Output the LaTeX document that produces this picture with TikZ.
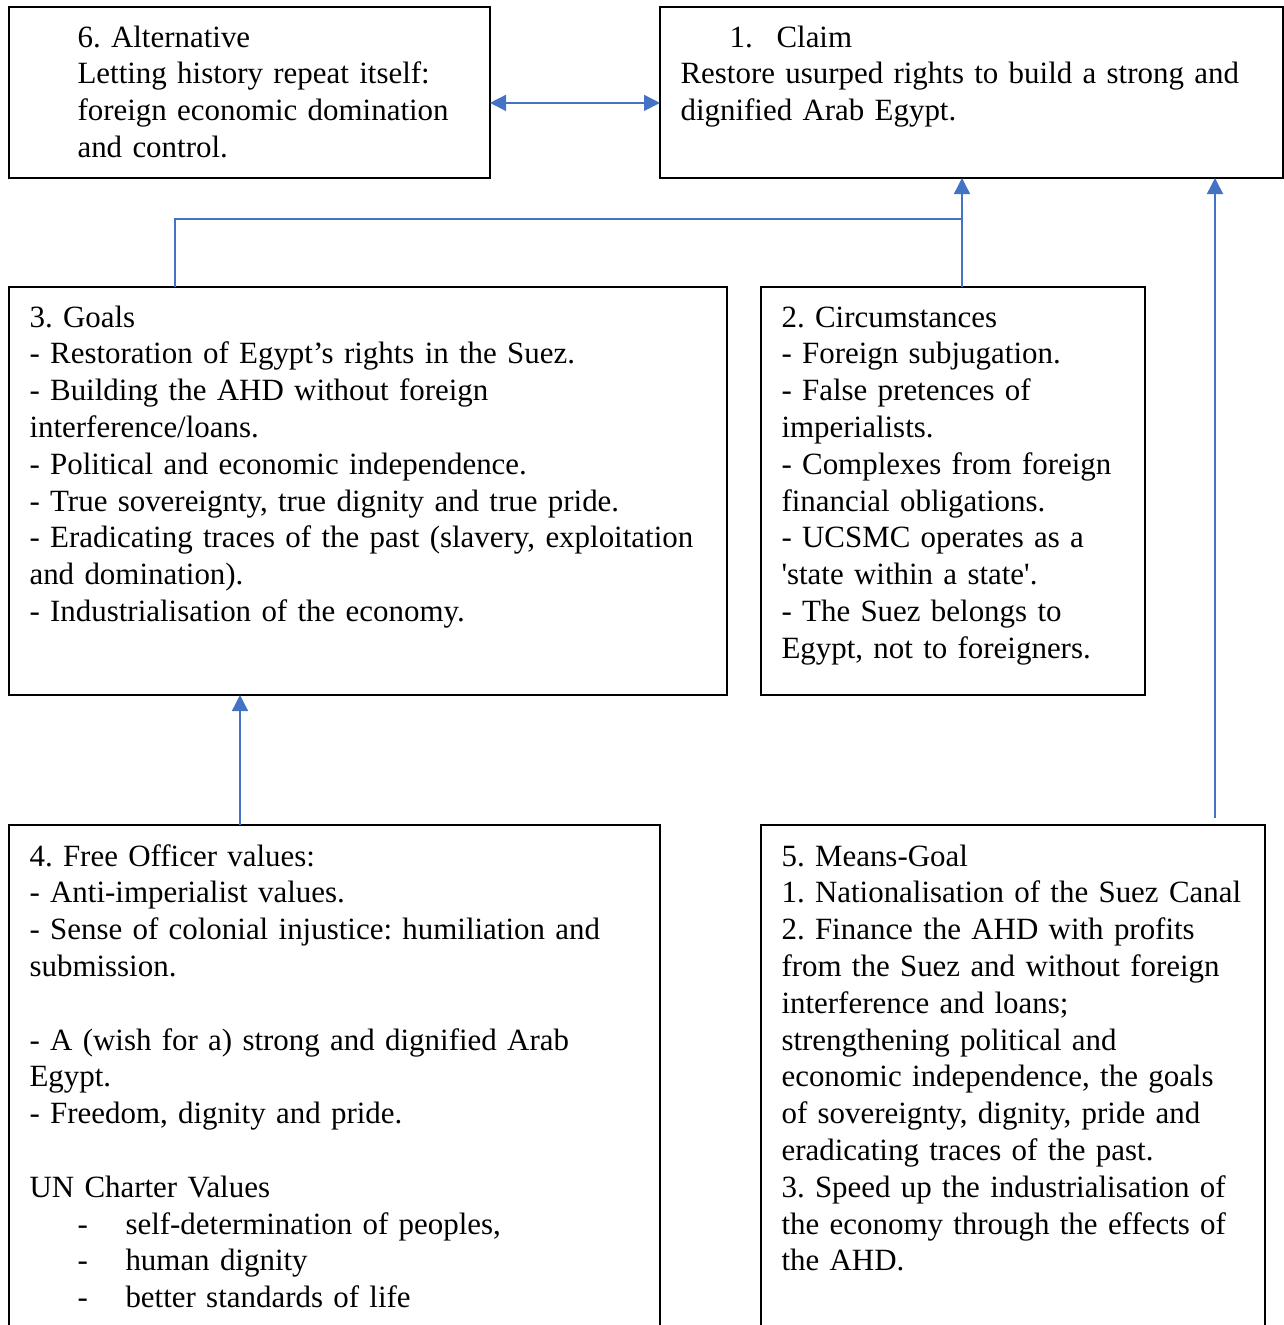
\documentclass[tikz,border=0pt]{standalone}
\usepackage{fontspec}
\setmainfont{Liberation Serif}
\usetikzlibrary{arrows.meta}

\newdimen\px
\px=0.375pt

\tikzset{
    box/.style={draw=black, line width=0.6pt, rectangle, anchor=north west,
        inner sep=0pt, outer sep=0pt},
    txt/.style={anchor=base west, inner sep=0pt, align=left,
        font=\fontsize{11.6}{13.8}\selectfont\frenchspacing},
    link/.style={draw={rgb,255:red,68;green,114;blue,196}, line width=0.55pt},
    tip/.style={-{Triangle[width=6pt,length=6pt]}}
}

\begin{document}
\begin{tikzpicture}[x=0.375pt, y=-0.375pt]
        \clip (0,0) rectangle (1284,1325);

        % the six boxes
        \node [box, minimum width=481\px, minimum height=171\px] (alt) at (9,7) {};
        \node [box, minimum width=623\px, minimum height=171\px] (claim) at (660,7) {};
        \node [box, minimum width=718\px, minimum height=408\px] (goals) at (9,287) {};
        \node [box, minimum width=384\px, minimum height=408\px] (circ) at (761,287) {};
        \node [box, minimum width=651\px, minimum height=540\px] (values) at (9,825) {};
        \node [box, minimum width=504\px, minimum height=540\px] (means) at (761,825) {};

        \node [txt, text width=405\px] (alt-txt) at (77,47) {6. Alternative\\
            Letting history repeat itself:\\
            foreign economic domination\\
            and control.};
        \node [txt, text width=595\px] (claim-txt) at (680,47) {\hspace*{18.4pt}\makebox[17.6pt][l]{1.}Claim\\
            Restore usurped rights to build a strong and\\
            dignified Arab Egypt.};
        \node [txt, text width=690\px] (goals-txt) at (29,327) {3. Goals\\
            - Restoration of Egypt’s rights in the Suez.\\
            - Building the AHD without foreign\\
            interference/loans.\\
            - Political and economic independence.\\
            - True sovereignty, true dignity and true pride.\\
            - Eradicating traces of the past (slavery, exploitation\\
            and domination).\\
            - Industrialisation of the economy.};
        \node [txt, text width=360\px] (circ-txt) at (781,327) {2. Circumstances\\
            - Foreign subjugation.\\
            - False pretences of\\
            imperialists.\\
            - Complexes from foreign\\
            financial obligations.\\
            - UCSMC operates as a\\
            \textquotesingle state within a state\textquotesingle.\\
            - The Suez belongs to\\
            Egypt, not to foreigners.};
        \node [txt, text width=625\px] (values-txt) at (29,866) {4. Free Officer values:\\
            - Anti-imperialist values.\\
            - Sense of colonial injustice: humiliation and\\
            submission.\\[13.8pt]
            - A (wish for a) strong and dignified Arab\\
            Egypt.\\
            - Freedom, dignity and pride.\\[13.8pt]
            UN Charter Values\\
            \makebox[36pt][l]{\hspace*{18pt}-}self-determination of peoples,\\
            \makebox[36pt][l]{\hspace*{18pt}-}human dignity\\
            \makebox[36pt][l]{\hspace*{18pt}-}better standards of life};
        \node [txt, text width=482\px] (means-txt) at (781,866) {5. Means-Goal\\
            1. Nationalisation of the Suez Canal\\
            2. Finance the AHD with profits\\
            from the Suez and without foreign\\
            interference and loans;\\
            strengthening political and\\
            economic independence, the goals\\
            of sovereignty, dignity, pride and\\
            eradicating traces of the past.\\
            3. Speed up the industrialisation of\\
            the economy through the effects of\\
            the AHD.};

        % connectors
        \coordinate (join) at (962,219);
        \coordinate (vtop) at (240,825);
        \coordinate (mtop) at (1215,818);
        \draw [link, {Triangle[width=6pt,length=6pt]}-{Triangle[width=6pt,length=6pt]}]
            ([yshift=-3.9pt]alt.east) -- ([yshift=-3.9pt]claim.west);
        \draw [link] ([xshift=62.25pt]goals.north west) |- (join);
        \draw [link] (circ.north -| join) -- (join);
        \draw [link, tip] (join) -- (join |- claim.south);
        \draw [link, tip] (vtop) -- (vtop |- goals.south);
        \draw [link, tip] (mtop) -- (mtop |- claim.south);
    \end{tikzpicture}
\end{document}
